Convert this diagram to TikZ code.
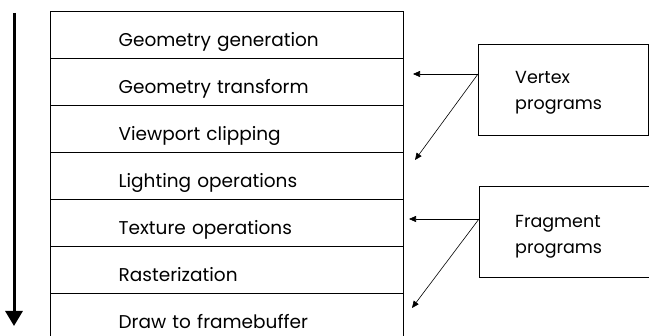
\documentclass[tikz,border=0pt]{standalone}
\usepackage{fontspec}
\setmainfont{Poppins}
\usetikzlibrary{arrows.meta,calc}
\begin{document}
\begin{tikzpicture}[x=1pt,y=-1pt,
  rowbox/.style={draw, line width=1.3pt, minimum width=353pt, minimum height=47pt,
    text width=217pt, inner xsep=68pt, inner ysep=0pt, align=left, anchor=north west,
    font=\fontsize{18.5}{22}\selectfont, text height=22pt, text depth=0pt},
  progbox/.style={draw, line width=0.9pt, minimum width=170pt, minimum height=91pt,
    anchor=north west, inner sep=0pt},
  progtext/.style={font=\fontsize{17.5}{26}\selectfont, align=left, anchor=north west, inner sep=0pt},
  conn/.style={line width=0.6pt, -{Triangle[width=6pt,length=7pt]}}
]
\useasboundingbox (0,0) rectangle (649,336);
\begin{scope}
\clip (0,0) rectangle (649,336);
\node[rowbox] (r1) at (50,11) {Geometry generation};
\node[rowbox] (r2) at (50,58) {Geometry transform};
\node[rowbox] (r3) at (50,105) {Viewport clipping};
\node[rowbox] (r4) at (50,152) {Lighting operations};
\node[rowbox] (r5) at (50,199) {Texture operations};
\node[rowbox] (r6) at (50,246) {Rasterization};
\node[rowbox] (r7) at (50,293) {Draw to framebuffer};
\node[progbox] (vbox) at (478,44) {};
\node[progtext] (vtext) at ($(vbox.north west)+(37,27)$) {Vertex\\programs};
\node[progbox] (fbox) at (479,186) {};
\node[progtext] (ftext) at ($(fbox.north west)+(36,29)$) {Fragment\\programs};
\end{scope}
\coordinate (flowtop) at (14,13);
\coordinate (flowend) at (14,326);
\draw[line width=3pt, -{Triangle[width=17pt,length=15pt]}] (flowtop) -- (flowend);
\coordinate (vs) at ($(vbox.north west)+(0,30)$);
\coordinate (va) at (413,74);
\coordinate (vb) at (415,160);
\coordinate (fs) at ($(fbox.north west)+(0,33)$);
\coordinate (fa) at (409,219);
\coordinate (fb) at (412,308);
\draw[conn] (vs) -- (va);
\draw[conn] (vs) -- (vb);
\draw[conn] (fs) -- (fa);
\draw[conn] (fs) -- (fb);
\end{tikzpicture}
\end{document}
